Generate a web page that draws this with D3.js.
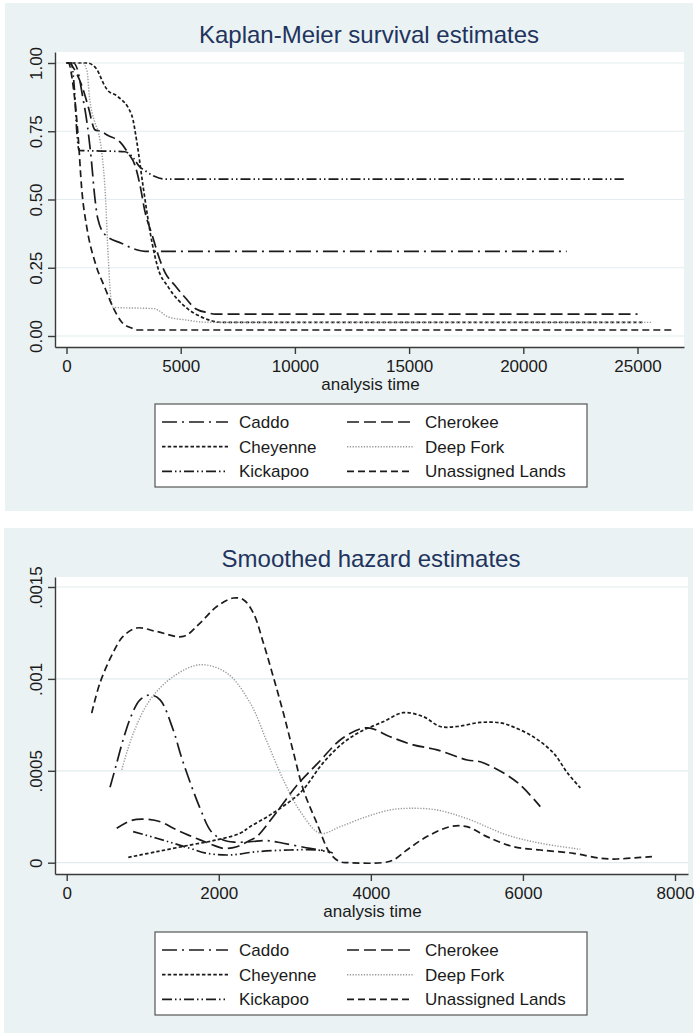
<!DOCTYPE html>
<html>
<head>
<meta charset="utf-8">
<script src="https://cdn.jsdelivr.net/npm/d3@7"></script>
<style>
  body { margin: 0; background: #ffffff; }
  svg { display: block; }
  text { font-family: "Liberation Sans", Arial, Helvetica, sans-serif; }
</style>
</head>
<body>
<svg id="chart" width="695" height="1035"></svg>
<script>
// ---------------- DATA ----------------
const groups = ["Caddo", "Cherokee", "Cheyenne", "Deep Fork", "Kickapoo", "Unassigned Lands"];

// Kaplan-Meier survival estimates: [analysis time, survival]
const kmCaddo = [[0,1],[300,1],[500,0.97],[700,0.88],[900,0.78],[1070,0.66],[1250,0.50],[1370,0.43],[1700,0.37],[2400,0.34],[3100,0.315],[3450,0.31],[21900,0.31]];
const kmCherokee = [[0,1],[100,1],[450,0.96],[700,0.91],[950,0.84],[1250,0.755],[1500,0.75],[1800,0.735],[2350,0.71],[2700,0.67],[3000,0.625],[3200,0.56],[3450,0.45],[3750,0.37],[4000,0.30],[4300,0.235],[4750,0.185],[5200,0.14],[5650,0.10],[6200,0.085],[6500,0.08],[25000,0.08]];
const kmCheyenne = [[0,1],[900,1],[1300,0.98],[1650,0.92],[1800,0.90],[2200,0.88],[2850,0.81],[3100,0.70],[3350,0.55],[3750,0.34],[4000,0.25],[4450,0.18],[5300,0.10],[5900,0.07],[6800,0.05],[25300,0.05]];
const kmDeepFork = [[0,1],[700,1],[900,0.97],[1000,0.88],[1250,0.78],[1400,0.745],[1550,0.67],[1700,0.52],[1820,0.30],[1980,0.115],[2050,0.105],[3850,0.10],[4000,0.095],[4450,0.07],[5300,0.058],[5950,0.051],[6500,0.05],[25600,0.05]];
const kmKickapoo = [[0,1],[200,1],[350,0.9],[450,0.75],[550,0.68],[2550,0.675],[2900,0.655],[3200,0.62],[3450,0.605],[3850,0.585],[4300,0.575],[24400,0.575]];
const kmUnassigned = [[0,1],[80,1],[300,0.91],[515,0.725],[665,0.54],[885,0.40],[1250,0.27],[1685,0.176],[2050,0.103],[2415,0.051],[2855,0.029],[3100,0.022],[26550,0.022]];

// Smoothed hazard estimates: [analysis time, hazard]
const hzCaddo = [[570,0.00041],[650,0.00053],[750,0.00068],[850,0.0008],[964,0.000886],[1096,0.000913],[1228,0.000886],[1400,0.000723],[1520,0.00056],[1750,0.0003],[1900,0.00017],[2050,0.000125],[2200,0.000112],[2411,0.000114],[2632,0.00012],[2846,0.000106],[3200,0.000078],[3464,0.00006]];
const hzCherokee = [[658,0.000187],[850,0.00023],[1053,0.000236],[1250,0.00022],[1403,0.000187],[1600,0.00015],[1754,0.000124],[1900,0.0001],[2061,0.000078],[2237,0.000087],[2400,0.00012],[2500,0.000142],[2718,0.000251],[3026,0.00042],[3300,0.00054],[3636,0.00068],[3951,0.000734],[4254,0.000685],[4557,0.000641],[4872,0.000614],[5267,0.000559],[5438,0.000549],[5741,0.000489],[5965,0.000423],[6228,0.000305]];
const hzCheyenne = [[810,0.000029],[1184,0.00006],[1622,0.000096],[1974,0.000124],[2280,0.00016],[2411,0.000196],[2675,0.00026],[3070,0.00038],[3372,0.000543],[3636,0.000652],[3859,0.000712],[4162,0.000767],[4425,0.000816],[4688,0.000795],[4912,0.000741],[5136,0.000741],[5438,0.000763],[5701,0.000761],[5873,0.000739],[6136,0.000685],[6399,0.000598],[6584,0.000489],[6755,0.000407]];
const hzDeepFork = [[724,0.000505],[877,0.000705],[1096,0.000886],[1403,0.001013],[1754,0.001077],[2105,0.001032],[2412,0.00087],[2632,0.00066],[2850,0.00045],[3070,0.00028],[3333,0.00016],[3596,0.000196],[3947,0.000251],[4254,0.000287],[4517,0.000296],[4868,0.000287],[5263,0.00024],[5789,0.000151],[6228,0.000106],[6666,0.000078],[6754,0.000073]];
const hzKickapoo = [[874,0.000169],[1184,0.000133],[1622,0.000078],[1842,0.000051],[2148,0.000042],[2500,0.00006],[2938,0.000069],[3290,0.000069],[3500,0.000053]];
const hzUnassigned = [[329,0.000814],[438,0.000979],[609,0.001142],[741,0.001231],[921,0.001277],[1184,0.001258],[1534,0.001231],[1754,0.001304],[1974,0.001394],[2192,0.00144],[2324,0.001431],[2455,0.001358],[2587,0.001195],[2718,0.00101],[2850,0.000814],[2982,0.0006],[3113,0.000396],[3290,0.000215],[3464,0.000051],[3596,0.000005],[3700,0],[4150,0],[4297,0.000015],[4474,0.000069],[4737,0.000142],[5043,0.000196],[5263,0.000196],[5526,0.000142],[5876,0.000087],[6228,0.000069],[6666,0.000051],[7017,0.000024],[7237,0.00002],[7543,0.000029],[7697,0.000033]];

// Tick values and labels
const kmXTicks = [0, 5000, 10000, 15000, 20000, 25000];
const kmXLabels = ["0", "5000", "10000", "15000", "20000", "25000"];
const kmYTicks = [0, 0.25, 0.5, 0.75, 1];
const kmYLabels = ["0.00", "0.25", "0.50", "0.75", "1.00"];
const hzXTicks = [0, 2000, 4000, 6000, 8000];
const hzXLabels = ["0", "2000", "4000", "6000", "8000"];
const hzYTicks = [0, 0.0005, 0.001, 0.0015];
const hzYLabels = ["0", ".0005", ".001", ".0015"];

// ---------------- STYLES ----------------
const lineStyles = {
  "Caddo":            { dash: "15,5,2,5", color: "#1b1b1b", width: 1.7 },
  "Cherokee":         { dash: "12,5", color: "#1b1b1b", width: 1.7 },
  "Cheyenne":         { dash: "3.5,2.2", color: "#1b1b1b", width: 1.7 },
  "Deep Fork":        { dash: "1.3,1.5", color: "#9a9a9a", width: 1.4 },
  "Kickapoo":         { dash: "10,3,1.5,3,1.5,3", color: "#1b1b1b", width: 1.7 },
  "Unassigned Lands": { dash: "7,4", color: "#1b1b1b", width: 1.7 }
};

const svg = d3.select("#chart");
const BG = "#EAF2F3";
const TITLE = "#22345e";
const GRID = "#e2ebee";
const AXIS = "#3a3a3a";

function drawPanel(cfg) {
  const g = svg.append("g");
  g.append("rect").attr("x", cfg.bg[0]).attr("y", cfg.bg[1])
    .attr("width", cfg.bg[2]).attr("height", cfg.bg[3]).attr("fill", BG);

  g.append("text").attr("x", cfg.titleX).attr("y", cfg.titleY)
    .attr("text-anchor", "middle").attr("font-size", 24).attr("fill", TITLE)
    .text(cfg.title);

  const x = d3.scaleLinear().domain(cfg.xDomain).range([cfg.left, cfg.right]);
  const y = d3.scaleLinear().domain(cfg.yDomain).range([cfg.bottom, cfg.top]);

  g.append("rect").attr("x", cfg.left).attr("y", cfg.top)
    .attr("width", cfg.right - cfg.left).attr("height", cfg.bottom - cfg.top)
    .attr("fill", "#ffffff");

  g.append("g").selectAll("line").data(cfg.yTicks).join("line")
    .attr("x1", cfg.left).attr("x2", cfg.right)
    .attr("y1", d => y(d)).attr("y2", d => y(d))
    .attr("stroke", GRID).attr("stroke-width", 1.2);

  const line = d3.line().x(d => x(d[0])).y(d => y(d[1])).curve(cfg.curve);
  groups.forEach((name, i) => {
    const st = lineStyles[name];
    g.append("path").datum(cfg.series[i])
      .attr("d", line).attr("fill", "none")
      .attr("stroke", st.color).attr("stroke-width", st.width)
      .attr("stroke-dasharray", st.dash)
      .attr("stroke-linejoin", "round");
  });

  const xAxis = g.append("g").attr("transform", `translate(0,${cfg.bottom})`)
    .call(d3.axisBottom(x).tickValues(cfg.xTicks)
      .tickFormat((d, i) => cfg.xLabels[i]).tickSize(7).tickSizeOuter(0));
  const yAxis = g.append("g").attr("transform", `translate(${cfg.left},0)`)
    .call(d3.axisLeft(y).tickValues(cfg.yTicks)
      .tickFormat((d, i) => cfg.yLabels[i]).tickSize(7).tickSizeOuter(0));

  [xAxis, yAxis].forEach(a => {
    a.select(".domain").attr("stroke", AXIS).attr("stroke-width", 1.4);
    a.selectAll(".tick line").attr("stroke", AXIS).attr("stroke-width", 1.4);
    a.selectAll(".tick text").attr("font-size", 17).attr("fill", "#1a1a1a")
      .attr("font-family", '"Liberation Sans", Arial, Helvetica, sans-serif');
  });
  xAxis.selectAll(".tick text").attr("y", 25).attr("dy", 0);
  yAxis.selectAll(".tick text")
    .attr("transform", "rotate(-90)").attr("x", 0).attr("y", -13)
    .attr("dy", 0).attr("text-anchor", "middle");

  g.append("text").attr("x", (cfg.left + cfg.right) / 2 + 1).attr("y", cfg.bottom + 43)
    .attr("text-anchor", "middle").attr("font-size", 17).attr("fill", "#1a1a1a")
    .text("analysis time");

  // legend
  const lg = g.append("g");
  lg.append("rect").attr("x", 155).attr("y", cfg.legendTop)
    .attr("width", 432).attr("height", 83)
    .attr("fill", "#ffffff").attr("stroke", "#555").attr("stroke-width", 1.2);
  const rowBase = [24, 48.7, 73.3];
  groups.forEach((name, i) => {
    const col = i % 2, row = Math.floor(i / 2);
    const st = lineStyles[name];
    const lx = col ? 347 : 162;
    const by = cfg.legendTop + rowBase[row];
    lg.append("line").attr("x1", lx).attr("x2", lx + 66)
      .attr("y1", by - 6).attr("y2", by - 6)
      .attr("stroke", st.color).attr("stroke-width", st.width)
      .attr("stroke-dasharray", st.dash);
    lg.append("text").attr("x", col ? 425 : 239).attr("y", by)
      .attr("font-size", 17).attr("fill", "#1a1a1a").text(name);
  });
}

drawPanel({
  bg: [5, 3, 688, 508],
  title: "Kaplan-Meier survival estimates", titleX: 369, titleY: 43,
  left: 55, right: 684, top: 52, bottom: 347,
  xDomain: [-503.5, 27036], yDomain: [-0.0403, 1.0403],
  xTicks: kmXTicks, xLabels: kmXLabels, yTicks: kmYTicks, yLabels: kmYLabels,
  series: [kmCaddo, kmCherokee, kmCheyenne, kmDeepFork, kmKickapoo, kmUnassigned],
  curve: d3.curveMonotoneX,
  legendTop: 404
});

drawPanel({
  bg: [4, 528, 689, 505],
  title: "Smoothed hazard estimates", titleX: 371, titleY: 567,
  left: 55, right: 688, top: 577, bottom: 874,
  xDomain: [-153.9, 8171], yDomain: [-0.0000615, 0.0015544],
  xTicks: hzXTicks, xLabels: hzXLabels, yTicks: hzYTicks, yLabels: hzYLabels,
  series: [hzCaddo, hzCherokee, hzCheyenne, hzDeepFork, hzKickapoo, hzUnassigned],
  curve: d3.curveCatmullRom.alpha(0.5),
  legendTop: 932
});
</script>
</body>
</html>
